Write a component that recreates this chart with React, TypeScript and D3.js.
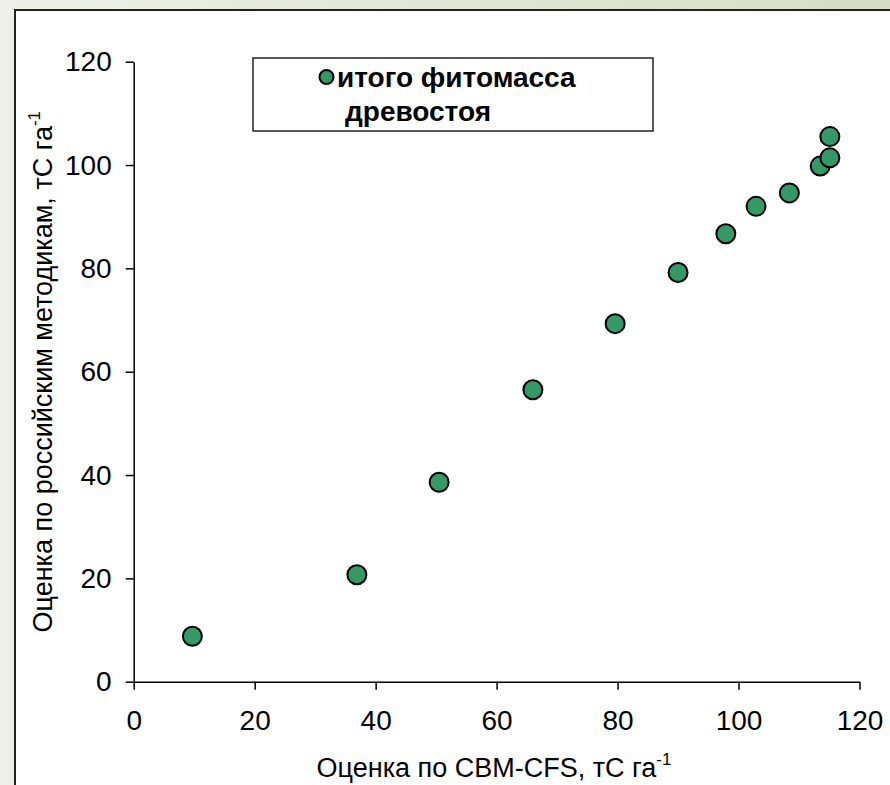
import React, { useEffect, useRef } from 'react';
import * as d3 from 'd3';

// оценка по CBM-CFS (x) и по российским методикам (y), тС/га
const cbmValues = [9.7, 36.9, 50.5, 66.0, 79.6, 90.0, 97.9, 102.9, 108.4, 113.5, 115.1, 115.1];
const rusValues = [8.8, 20.7, 38.6, 56.5, 69.3, 79.2, 86.7, 92.0, 94.6, 99.8, 101.4, 105.5];
const xTicks = [0, 20, 40, 60, 80, 100, 120];
const yTicks = [0, 20, 40, 60, 80, 100, 120];
const seriesName = ['итого фитомасса', 'древостоя'];

const W = 890;
const H = 785;
const FONT = 'Arial, "Liberation Sans", sans-serif';

export default function App() {
  const ref = useRef<SVGSVGElement>(null);

  useEffect(() => {
    const svg = d3.select(ref.current);
    svg.selectAll('*').remove();

    // фон слайда
    const defs = svg.append('defs');
    const grad = defs.append('linearGradient').attr('id', 'bg').attr('x1', 0).attr('x2', 1).attr('y1', 0).attr('y2', 0);
    grad.append('stop').attr('offset', 0).attr('stop-color', '#eef0e8');
    grad.append('stop').attr('offset', 1).attr('stop-color', '#d6ddc4');
    svg.append('rect').attr('width', W).attr('height', H).attr('fill', 'url(#bg)');

    // белая область диаграммы
    svg.append('rect')
      .attr('x', 15).attr('y', 10).attr('width', W).attr('height', H)
      .attr('fill', 'white').attr('stroke', '#222').attr('stroke-width', 2);

    const x = d3.scaleLinear().domain([0, 120]).range([133.7, 859.5]);
    const y = d3.scaleLinear().domain([0, 120]).range([681.7, 61.7]);

    const xAxis = svg.append('g')
      .attr('transform', `translate(0, ${y(0)})`)
      .call(d3.axisBottom(x).tickValues(xTicks).tickSize(8).tickSizeOuter(0).tickPadding(20));
    const yAxis = svg.append('g')
      .attr('transform', `translate(${x(0)}, 0)`)
      .call(d3.axisLeft(y).tickValues(yTicks).tickSize(8).tickSizeOuter(0).tickPadding(14));

    [xAxis, yAxis].forEach(a => {
      a.selectAll('path, line').attr('stroke', '#000').attr('stroke-width', 1.5);
      a.selectAll('text').attr('font-family', FONT).attr('font-size', 28).attr('fill', '#000');
    });

    // подписи осей
    const xt = svg.append('text')
      .attr('x', 494).attr('y', 777)
      .attr('text-anchor', 'middle')
      .attr('font-family', FONT).attr('font-size', 27).attr('fill', '#000');
    xt.append('tspan').text('Оценка по CBM-CFS, тС га');
    xt.append('tspan').attr('font-size', 17).attr('dy', -12).text('-1');

    const yt = svg.append('text')
      .attr('transform', `translate(52, ${(y(0) + y(120)) / 2}) rotate(-90)`)
      .attr('text-anchor', 'middle')
      .attr('font-family', FONT).attr('font-size', 27).attr('fill', '#000');
    yt.append('tspan').text('Оценка по российским методикам, тС га');
    yt.append('tspan').attr('font-size', 17).attr('dy', -12).text('-1');

    // точки
    svg.append('g').selectAll('circle')
      .data(cbmValues.map((v, i) => [v, rusValues[i]]))
      .enter().append('circle')
        .attr('cx', d => x(d[0]))
        .attr('cy', d => y(d[1]))
        .attr('r', 9.5)
        .attr('fill', '#339966')
        .attr('stroke', '#000')
        .attr('stroke-width', 2);

    // легенда
    const lg = svg.append('g');
    lg.append('rect')
      .attr('x', 253).attr('y', 58).attr('width', 400).attr('height', 73)
      .attr('fill', 'white').attr('stroke', '#222').attr('stroke-width', 1.5);
    lg.append('circle')
      .attr('cx', 326.5).attr('cy', 77).attr('r', 7)
      .attr('fill', '#339966').attr('stroke', '#000').attr('stroke-width', 2);
    lg.selectAll('text.l')
      .data(seriesName)
      .enter().append('text')
        .attr('class', 'l')
        .attr('x', (d, i) => (i === 0 ? 337 : 345))
        .attr('y', (d, i) => (i === 0 ? 87 : 121))
        .attr('font-family', FONT).attr('font-size', 28).attr('font-weight', 'bold').attr('fill', '#000')
        .text(d => d);
  }, []);

  return (
    <div>
      <style>{'body{margin:0;}'}</style>
      <svg ref={ref} width={W} height={H} style={{ display: 'block' }} />
    </div>
  );
}
